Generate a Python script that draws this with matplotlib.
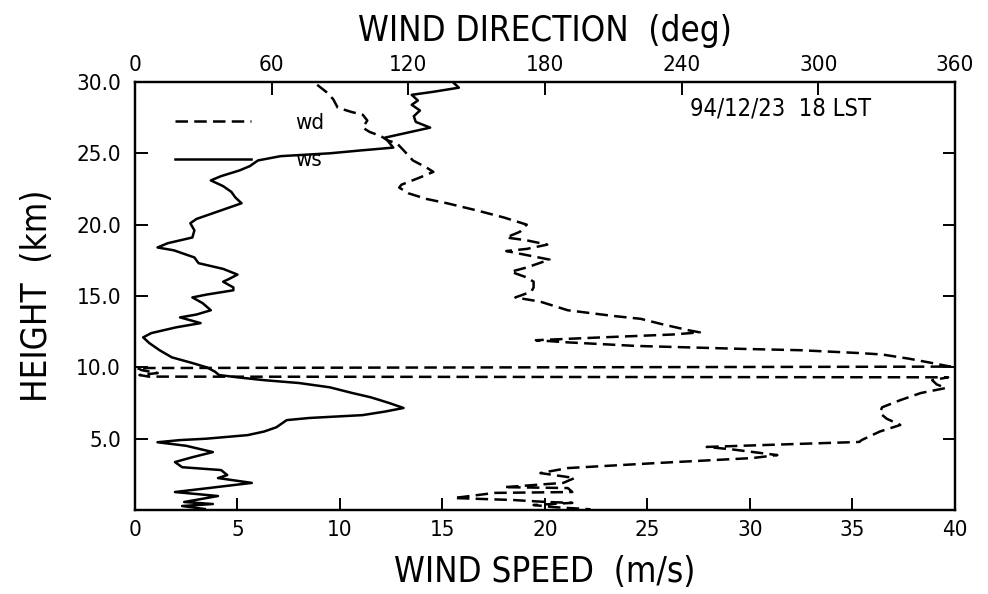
import matplotlib
matplotlib.use('Agg')
import matplotlib.pyplot as plt

plt.rcParams['font.family'] = ['DejaVu Sans']
plt.rcParams['font.stretch'] = 'condensed'

# wind speed profile (m/s) vs height (km)
ws_h = [30.0, 29.6, 29.3, 29.1, 28.7, 28.4, 28.0, 27.6, 27.2, 26.8, 26.1, 25.4,
        25.2, 25.0, 24.8, 24.5, 24.1, 23.8, 23.4, 23.1, 22.7, 22.3, 21.9, 21.5,
        21.1, 20.8, 20.4, 20.1, 19.6, 19.1, 18.7, 18.4, 18.2, 17.7, 17.3, 16.9,
        16.5, 16.2, 16.0, 15.6, 15.4, 15.1, 14.9, 14.5, 14.0, 13.7, 13.5, 13.1,
        12.8, 12.4, 12.1, 11.7, 11.2, 10.7, 10.3, 10.0, 9.7, 9.46, 9.3, 9.1,
        8.9, 8.6, 8.2, 7.9, 7.5, 7.15, 6.9, 6.65, 6.45, 6.3, 6.0, 5.8, 5.5,
        5.25, 5.0, 4.9, 4.75, 4.5, 4.06, 3.7, 3.36, 3.0, 2.8, 2.45, 2.24, 1.9,
        1.54, 1.26, 0.98, 0.56, 0.42, 0.28, 0.07]
ws = [15.5, 15.8, 14.5, 13.5, 13.8, 13.5, 13.9, 13.6, 13.7, 14.4, 12.2, 12.6,
      11.0, 9.5, 7.1, 6.0, 5.6, 5.1, 4.2, 3.7, 4.3, 4.7, 4.9, 5.2,
      4.4, 3.8, 3.0, 2.7, 2.9, 2.8, 1.6, 1.1, 1.9, 2.9, 3.1, 4.3,
      5.0, 4.6, 4.3, 4.8, 4.8, 3.5, 2.8, 3.3, 3.7, 3.0, 2.2, 3.2,
      2.0, 0.8, 0.4, 0.7, 1.2, 1.8, 2.8, 3.5, 3.9, 4.1, 5.0, 6.3,
      8.0, 9.5, 10.6, 11.5, 12.4, 13.1, 12.2, 11.1, 8.5, 7.4, 7.1, 6.9, 6.3,
      5.5, 3.5, 2.2, 1.1, 2.5, 3.8, 2.8, 1.95, 2.3, 4.2, 4.5, 4.05, 5.7,
      3.6, 1.95, 4.05, 2.4, 3.8, 2.3, 3.4]

# wind direction profile (deg) vs height (km)
wd_h = [29.8, 29.3, 28.8, 28.2, 27.9, 27.7, 27.3, 26.8, 26.5, 26.2, 25.9, 25.7,
        25.2, 24.5, 24.0, 23.7, 23.3, 22.8, 22.6, 22.2, 21.8, 21.5, 21.0, 20.5,
        20.2, 20.0, 19.7, 19.5, 19.1, 18.9, 18.6, 18.3, 18.15, 17.55, 17.0,
        16.7, 16.3, 16.0, 15.6, 15.3, 14.9, 14.6, 14.0, 13.6, 13.4, 13.0, 12.6,
        12.45, 12.3, 12.1, 11.9, 11.75, 11.5, 11.3, 11.2, 11.0, 10.9, 10.6,
        10.3, 10.05, 9.95, 9.8, 9.6, 9.46, 9.35, 9.3, 9.1, 8.8, 8.55, 8.2, 7.7,
        7.2, 6.8, 6.4, 5.96, 5.5, 4.9, 4.77, 4.6, 4.42, 4.25, 3.85, 3.64, 3.3,
        2.94, 2.59, 2.24, 1.9, 1.6, 1.54, 1.26, 1.2, 0.84, 0.7, 0.56, 0.5,
        0.35, 0.2, 0.05]
wd = [80, 84, 87, 89, 95, 100, 102, 100, 103, 108, 111, 115,
      118, 122, 128, 131, 125, 117, 116, 120, 128, 137, 150, 162,
      168, 172, 170, 169, 163, 172, 181, 172, 163, 182, 172,
      165, 172, 175, 175, 174, 167, 178, 190, 210, 222, 232, 243,
      248, 236, 205, 176, 190, 220, 265, 292, 318, 328, 340,
      350, 358, 1, 3, 10, 2, 6, 357, 350, 352, 356, 345, 336,
      328, 327, 330, 336, 327, 319, 318, 285, 251, 262, 282, 271, 230,
      190, 178, 193, 188, 162, 190, 192, 158, 140, 166, 181, 192,
      175, 184, 200]

speed_ticks = [0, 5, 10, 15, 20, 25, 30, 35, 40]
dir_ticks = [0, 60, 120, 180, 240, 300, 360]
height_ticks = [5, 10, 15, 20, 25, 30]

fig = plt.figure(figsize=(9.88, 5.94), dpi=100)
ax = fig.add_axes([0.1366, 0.1414, 0.83, 0.7206])
ax2 = ax.twiny()

ax.plot(ws, ws_h, color='black', lw=1.8, label='ws')
ax2.plot(wd, wd_h, color='black', lw=1.8, linestyle=(0, (5, 2.5)), label='wd')

ax.set_xlim(0, 40)
ax.set_ylim(0, 30)
ax2.set_xlim(0, 360)

ax.set_xticks(speed_ticks)
ax.set_yticks(height_ticks)
ax.set_yticklabels(['%.1f' % v for v in height_ticks])
ax2.set_xticks(dir_ticks)

for a in (ax, ax2):
    for s in a.spines.values():
        s.set_linewidth(1.6)
ax.tick_params(axis='x', direction='in', length=9, width=1.4, labelsize=16, pad=7)
ax.tick_params(axis='y', direction='in', length=9, width=1.4, labelsize=16,
               right=True, pad=10)
ax2.tick_params(axis='x', direction='in', length=9, width=1.4, labelsize=16, pad=5)

ax.set_xlabel('WIND SPEED  (m/s)', fontsize=25, labelpad=11)
ax.set_ylabel('HEIGHT  (km)', fontsize=25, labelpad=16)
ax2.set_xlabel('WIND DIRECTION  (deg)', fontsize=25, labelpad=10)

ax.text(0.677, 0.965, '94/12/23  18 LST', transform=ax.transAxes, fontsize=17,
        ha='left', va='top')

h1, l1 = ax2.get_legend_handles_labels()
h2, l2 = ax.get_legend_handles_labels()
ax.legend(h1 + h2, l1 + l2, loc='upper left', bbox_to_anchor=(0.025, 0.975),
          frameon=False, handlelength=3.4, handletextpad=2.0, labelspacing=0.8,
          fontsize=16)

fig.savefig('out.png', dpi=100)
